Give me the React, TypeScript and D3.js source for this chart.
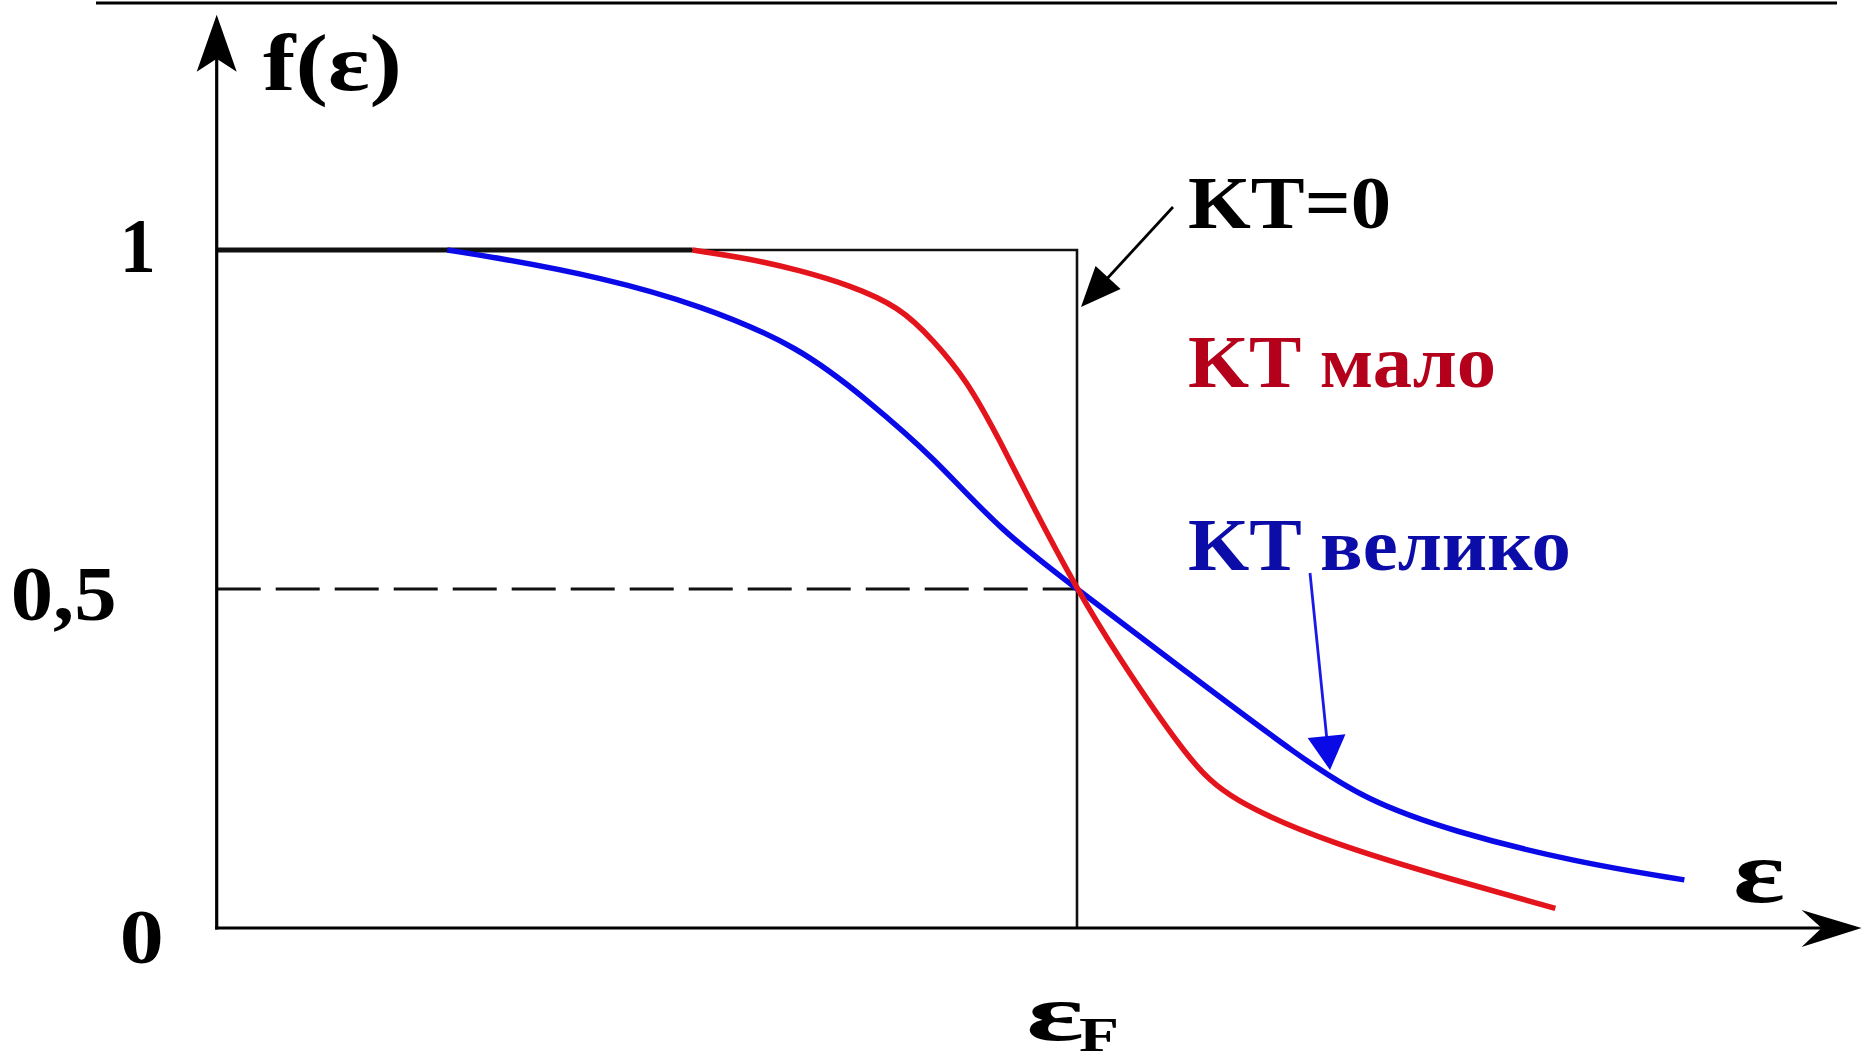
import React from "react";
import * as d3 from "d3";

const W = 1864;
const H = 1062;

// ---- data (energy in units of εF, occupancy f(ε)) ----
const kt0X = [0, 0.553];
const kt0Y = [1, 1];

const boxX = [0, 1, 1];
const boxY = [1, 1, 0];

const redX = [0.553, 0.62, 0.678, 0.736, 0.794, 0.833, 0.872, 0.91, 0.949, 1.0, 1.041, 1.13, 1.177, 1.294, 1.437, 1.556];
const redY = [1.0, 0.987, 0.97, 0.948, 0.916, 0.867, 0.808, 0.72, 0.621, 0.5, 0.413, 0.246, 0.189, 0.125, 0.071, 0.029];

const blueX = [0.268, 0.329, 0.446, 0.562, 0.678, 0.756, 0.833, 0.91, 1.0, 1.13, 1.259, 1.335, 1.437, 1.58, 1.706];
const blueY = [1.0, 0.988, 0.96, 0.919, 0.857, 0.779, 0.695, 0.587, 0.5, 0.375, 0.252, 0.189, 0.142, 0.097, 0.071];

const yTickValues = [0, 0.5, 1];
const yTickLabels = ["0", "0,5", "1"];

const labelKT0 = "KT=0";
const labelRed = "KT мало";
const labelBlue = "KT велико";
const yAxisTitle = "f(ε)";
const xAxisTitle = "ε";
const fermiLabel = "ε";
const fermiSub = "F";

const X_MAX = 1.912;
const Y_MAX = 1.347;

// layout
const FONT = "'Liberation Serif', 'Times New Roman', serif";

export default function App() {
  const x = d3.scaleLinear().domain([0, 1]).range([216.7, 1077]);
  const y = d3.scaleLinear().domain([0, 1]).range([928, 250]);

  const toPts = (xs: number[], ys: number[]) => xs.map((v, i) => [v, ys[i]] as [number, number]);

  const smooth = d3
    .line<[number, number]>()
    .x((d) => x(d[0]))
    .y((d) => y(d[1]))
    .curve(d3.curveBasis);
  const straight = d3
    .line<[number, number]>()
    .x((d) => x(d[0]))
    .y((d) => y(d[1]));

  const x0 = x(0);
  const y0 = y(0);
  const xEnd = x(X_MAX);
  const yTop = y(Y_MAX);

  // annotation arrows, in data coordinates
  const kt0ArrowFrom: [number, number] = [x.invert(1173), y.invert(207)];
  const kt0ArrowTo: [number, number] = [x.invert(1081), y.invert(307)];
  const blueArrowFrom: [number, number] = [x.invert(1310), y.invert(573)];
  const blueArrowTo: [number, number] = [x.invert(1330), y.invert(770)];

  const arrowHead = (from: [number, number], to: [number, number], len: number, half: number) => {
    const fx = x(from[0]), fy = y(from[1]);
    const tx = x(to[0]), ty = y(to[1]);
    const dx = tx - fx, dy = ty - fy;
    const L = Math.hypot(dx, dy);
    const ux = dx / L, uy = dy / L;
    const bx = tx - ux * len, by = ty - uy * len;
    const px = -uy, py = ux;
    return {
      line: `M${fx},${fy}L${bx + ux * 4},${by + uy * 4}`,
      head: `M${tx},${ty}L${bx + px * half},${by + py * half}L${bx - px * half},${by - py * half}Z`,
    };
  };

  const a1 = arrowHead(kt0ArrowFrom, kt0ArrowTo, 40, 17);
  const a2 = arrowHead(blueArrowFrom, blueArrowTo, 34, 19);

  const tickPos: Record<string, { dx: number; dy: number; len: number }> = {
    "0": { dx: -97, dy: 35, len: 44 },
    "0,5": { dx: -206, dy: 31, len: 106 },
    "1": { dx: -97, dy: 22, len: 36 },
  };

  return (
    <div style={{ position: "fixed", left: 0, top: 0, width: W, height: H, background: "#fff" }}>
      <svg width={W} height={H} style={{ display: "block" }} fontFamily={FONT}>
        <rect width={W} height={H} fill="#fff" />
        {/* top rule */}
        <line x1={96} x2={1837} y1={3} y2={3} stroke="#000" strokeWidth={3} />

        {/* dashed half level */}
        <line x1={x0} x2={x(1)} y1={y(0.5)} y2={y(0.5)} stroke="#111" strokeWidth={2.8} strokeDasharray="44 15" />

        {/* KT=0 step box */}
        <path d={straight(toPts(boxX, boxY)) || ""} fill="none" stroke="#111" strokeWidth={2.6} />
        <path d={straight(toPts(kt0X, kt0Y)) || ""} fill="none" stroke="#111" strokeWidth={5} />

        {/* axes */}
        <line x1={x0} x2={x0} y1={y0 + 1.5} y2={yTop + 30} stroke="#000" strokeWidth={3.2} />
        <path
          d={`M${x0},${yTop}L${x0 - 20},${yTop + 57}L${x0},${yTop + 44}L${x0 + 20},${yTop + 57}Z`}
          fill="#000"
        />
        <line x1={x0 - 1.6} x2={xEnd - 30} y1={y0} y2={y0} stroke="#000" strokeWidth={3.2} />
        <path
          d={`M${xEnd},${y0}L${xEnd - 60},${y0 - 18}L${xEnd - 40},${y0}L${xEnd - 60},${y0 + 19}Z`}
          fill="#000"
        />

        {/* curves */}
        <path d={smooth(toPts(blueX, blueY)) || ""} fill="none" stroke="#0a0ae8" strokeWidth={5.5} strokeLinecap="butt" />
        <path d={smooth(toPts(redX, redY)) || ""} fill="none" stroke="#e4141c" strokeWidth={5.5} strokeLinecap="butt" />

        {/* annotation arrows */}
        <path d={a1.line} stroke="#000" strokeWidth={2.8} fill="none" />
        <path d={a1.head} fill="#000" />
        <path d={a2.line} stroke="#1a1ae6" strokeWidth={2.8} fill="none" />
        <path d={a2.head} fill="#0a0ae6" />

        {/* y tick labels */}
        {yTickValues.map((v, i) => {
          const lab = yTickLabels[i];
          const p = tickPos[lab];
          return (
            <text
              key={lab}
              x={x0 + p.dx}
              y={y(v) + p.dy}
              fontSize={78}
              fontWeight="bold"
              fill="#000"
              textLength={p.len}
              lengthAdjust="spacingAndGlyphs"
            >
              {lab}
            </text>
          );
        })}

        {/* axis titles */}
        <text x={263} y={90} fontSize={80} fontWeight="bold" fill="#000" textLength={139} lengthAdjust="spacingAndGlyphs">
          {yAxisTitle}
        </text>
        <text x={1733} y={902} fontSize={88} fontWeight="bold" fill="#000" textLength={52} lengthAdjust="spacingAndGlyphs">
          {xAxisTitle}
        </text>
        <text x={x(1) - 51} y={1040} fontSize={80} fontWeight="bold" fill="#000">
          <tspan textLength={58} lengthAdjust="spacingAndGlyphs">{fermiLabel}</tspan>
          <tspan x={x(1) + 2} dy={11} fontSize={48} textLength={40} lengthAdjust="spacingAndGlyphs">
            {fermiSub}
          </tspan>
        </text>

        {/* curve labels */}
        <text x={1188} y={228} fontSize={74} fontWeight="bold" fill="#000" textLength={203} lengthAdjust="spacingAndGlyphs">
          {labelKT0}
        </text>
        <text x={1188} y={387} fontSize={74} fontWeight="bold" fill="#b5001c" textLength={308} lengthAdjust="spacingAndGlyphs">
          {labelRed}
        </text>
        <text x={1188} y={570} fontSize={74} fontWeight="bold" fill="#0c0ca8" textLength={383} lengthAdjust="spacingAndGlyphs">
          {labelBlue}
        </text>
      </svg>
    </div>
  );
}
